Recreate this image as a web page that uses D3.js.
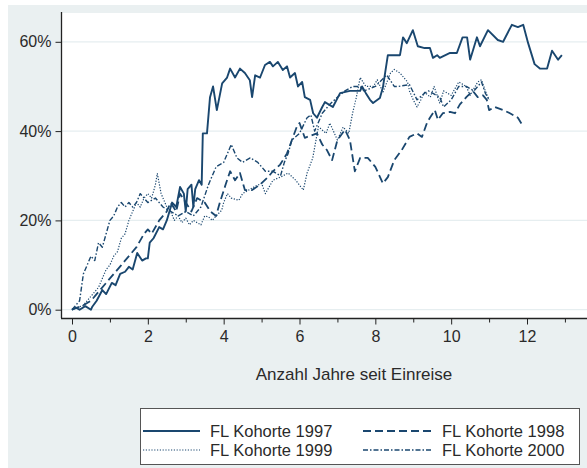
<!DOCTYPE html>
<html><head><meta charset="utf-8">
<script src="https://cdn.jsdelivr.net/npm/d3@7"></script>
<style>
html,body{margin:0;padding:0;background:#fff;}
svg{display:block;font-family:"Liberation Sans",Arial,sans-serif;}
</style></head>
<body>
<svg id="chart" width="587" height="468"></svg>
<script>
// ---- data (years since entry, percent) ----
const xTicks = [0, 2, 4, 6, 8, 10, 12];
const xMinorTicks = [1, 3, 5, 7, 9, 11, 13];
const yTicks = [0, 20, 40, 60];
const seriesNames = ["FL Kohorte 1997", "FL Kohorte 1998", "FL Kohorte 1999", "FL Kohorte 2000"];

const k1997T = [0,0.1,0.2,0.35,0.5,0.53,0.65,0.8,0.9,1.05,1.15,1.27,1.4,1.5,1.6,1.72,1.85,1.95,2.0,2.05,2.15,2.3,2.4,2.5,2.64,2.75,2.85,2.95,3.0,3.05,3.15,3.2,3.25,3.35,3.42,3.45,3.56,3.64,3.72,3.82,3.96,4.09,4.17,4.3,4.43,4.56,4.69,4.75,4.83,4.96,5.09,5.22,5.3,5.43,5.56,5.67,5.75,5.88,5.96,6.07,6.14,6.28,6.36,6.46,6.6,6.67,6.88,7.07,7.33,7.6,7.65,7.75,7.86,7.94,8.12,8.2,8.33,8.65,8.73,8.83,8.99,9.12,9.3,9.44,9.52,9.63,9.7,9.97,10.15,10.3,10.42,10.5,10.68,10.76,10.97,11.23,11.37,11.6,11.76,11.9,12.03,12.2,12.34,12.53,12.66,12.82,12.92];
const k1997V = [0,0.5,0,0.8,0,0.6,2,4.4,3.5,6,5.5,8,8.5,9.6,9,12.7,11,11.5,11.5,15,16,18.5,18,20,24,23,27.5,26,22,27,28,23,27,29,28,39.5,39.5,47.6,50,44.7,50.7,52,54,52,54,53,51.4,47.6,52.5,52,54.8,55.5,54.5,55.5,53.7,54.5,52,53,50,51,47.6,47,44,43,45.4,46.5,45.4,48.5,49,49,50,48.5,47,46.3,47.4,49.8,57,57,61,59.7,62.6,59,58.6,58.6,56.4,57,56.4,57.5,57.5,61,61,56,61,59,62.6,60.4,60,63.8,63.3,63.8,59.7,55,54,54,58,56,57];

const k1998T = [0,0.3,0.5,0.7,0.9,1.1,1.3,1.5,1.7,1.9,2.0,2.1,2.3,2.5,2.6,2.75,2.85,3.0,3.15,3.3,3.5,3.65,3.8,3.9,4.05,4.17,4.3,4.43,4.56,4.75,4.96,5.17,5.3,5.49,5.67,5.8,5.93,6.0,6.14,6.3,6.46,6.6,6.72,6.86,7.0,7.2,7.33,7.46,7.6,7.8,8.0,8.2,8.33,8.5,8.7,8.9,9.1,9.23,9.36,9.44,9.57,9.65,9.78,9.97,10.1,10.23,10.4,10.57,10.7,10.84,10.94,11.0,11.15,11.37,11.55,11.76,11.9];
const k1998V = [0,1,2,4,6,8,10,12,14,17,18,17,20,22,24,22,26,24,22,25,24,22,21,24,28,31,29,30.6,26.8,26.8,28,29.7,31,32.5,35,38,41,41.8,38.5,39,39.5,37,35.8,33.5,38,40.3,38,31,34,34,32,28.3,29.7,33.5,35.8,38.7,39.5,38.7,41.8,43,44.7,42.5,44,44.3,44,46,47.6,49,47.6,48,47,44.7,45.4,44.7,44,43,41];

const k1999T = [0,0.3,0.5,0.7,0.9,1.0,1.1,1.2,1.3,1.4,1.5,1.6,1.7,1.8,1.9,2.0,2.1,2.2,2.25,2.35,2.5,2.6,2.7,2.8,2.9,3.0,3.1,3.2,3.4,3.5,3.6,3.7,3.8,3.95,4.0,4.1,4.2,4.4,4.5,4.8,5.0,5.1,5.3,5.5,5.7,5.9,6.1,6.2,6.35,6.45,6.5,6.7,6.8,7.0,7.15,7.3,7.4,7.5,7.6,7.75,7.95,8.05,8.2,8.4,8.5,8.65,8.85,8.9,9.0,9.1,9.2,9.3,9.45,9.55,9.7,9.8,10.0,10.2,10.4,10.5,10.7,10.8,10.9,11.0];
const k1999V = [0,1,3,5,9,10,12,13,16,17,20,22,24,23,25,26,25,28,30.5,26,23,22,20,21,19.5,20.5,19,20,19,21,20.8,20,21,22.3,24,26,25,24.5,26,27.5,28.3,26,29,29.7,30.6,29,26.8,30.6,34,38.7,41,39.5,41.8,38,40.9,39.5,44,47.6,52,50,50,51.5,48.7,53,53.8,53,51,49,47,45.4,47,48.7,47.6,50,46.2,49,48,51,50,48,51,51.5,49,47];

const k2000T = [0,0.2,0.3,0.4,0.5,0.6,0.7,0.8,0.9,1.0,1.1,1.2,1.3,1.4,1.5,1.6,1.7,1.8,1.9,2.0,2.2,2.4,2.6,2.8,3.0,3.2,3.4,3.6,3.8,4.0,4.1,4.2,4.35,4.5,4.7,4.9,5.1,5.3,5.5,5.6,5.7,5.8,6.0,6.2,6.3,6.4,6.5,6.6,6.8,7.0,7.2,7.4,7.6,7.7,8.0,8.3,8.5,8.6,8.9,9.1,9.3,9.4,9.7,9.8,10.0,10.2,10.4,10.6,10.8,10.9,11.0];
const k2000V = [0,2,8,10,12,11,15,14,17,20,21,23,24,23,24,23,24,26,25,24,25,23,22,21,22,21,23,28,32,33,35,37,34,33,34,33,31,31,30,33,35,38,39.5,43,43.6,40,42,44,46,47.6,49,50,50,49,50,52.6,50,50,50.4,47,48.5,49,47.6,45.4,47,50,50,49,51,48.5,47];

const seriesT = [k1997T, k1998T, k1999T, k2000T];
const seriesV = [k1997V, k1998V, k1999V, k2000V];

// ---- styles ----
const lineColor = "#1a476f";
const styles = [
  {dash: null, width: 1.9},
  {dash: "8,4", width: 1.8},
  {dash: "1.2,1.6", width: 1.2},
  {dash: "5,2,1.5,2", width: 1.4}
];
const fontFam = "'Liberation Sans',Arial,sans-serif";

const svg = d3.select("#chart");
const W = 587, H = 468;

// graph region background
svg.append("rect").attr("x", 0).attr("y", 0).attr("width", W).attr("height", H).attr("fill", "#ffffff");
svg.append("rect").attr("x", 8).attr("y", 5).attr("width", W - 8).attr("height", H - 5).attr("fill", "#eaf0f1");

// plot region
const plotLeft = 62, plotTop = 12, plotBottom = 318, plotRight = 587;
svg.append("rect").attr("x", plotLeft).attr("y", plotTop).attr("width", plotRight - plotLeft).attr("height", plotBottom - plotTop).attr("fill", "#ffffff");

const x = d3.scaleLinear().domain([0, 12]).range([72, 527]);
const y = d3.scaleLinear().domain([0, 60]).range([309.7, 41.8]);

// grid lines
svg.append("g").selectAll("line").data(yTicks).join("line")
  .attr("x1", plotLeft).attr("x2", plotRight)
  .attr("y1", d => y(d)).attr("y2", d => y(d))
  .attr("stroke", "#e6eef0").attr("stroke-width", 1.3);
svg.append("line").attr("x1", plotLeft).attr("x2", plotRight).attr("y1", plotTop + 0.5).attr("y2", plotTop + 0.5)
  .attr("stroke", "#eaf0f1").attr("stroke-width", 1);

// series lines
const line = d3.line().x(d => x(d[0])).y(d => y(d[1]));
seriesT.forEach((ts, i) => {
  const pts = ts.map((t, j) => [t, seriesV[i][j]]);
  const p = svg.append("path").datum(pts)
    .attr("d", line).attr("fill", "none")
    .attr("stroke", lineColor).attr("stroke-width", styles[i].width)
    .attr("stroke-linejoin", "round");
  if (styles[i].dash) p.attr("stroke-dasharray", styles[i].dash);
});

// y axis
const yAxis = d3.axisLeft(y).tickValues(yTicks).tickFormat(d => d + "%").tickSize(6).tickPadding(4);
const gy = svg.append("g").attr("transform", `translate(${plotLeft - 0.5},0)`).call(yAxis);
gy.select(".domain").attr("d", `M0,${plotTop}V${plotBottom}`).attr("stroke", "#222").attr("stroke-width", 1.3);
gy.selectAll(".tick line").attr("stroke", "#222");
gy.selectAll("text").attr("font-size", 16).attr("fill", "#2a2a2a").attr("font-family", fontFam);

// x axis
const xAxis = d3.axisBottom(x).tickValues(xTicks).tickFormat(d3.format("d")).tickSize(6).tickPadding(6);
const gx = svg.append("g").attr("transform", `translate(0,${plotBottom + 0.5})`).call(xAxis);
gx.select(".domain").attr("d", `M${plotLeft - 1},0H${plotRight}`).attr("stroke", "#222").attr("stroke-width", 1.3);
gx.selectAll(".tick line").attr("stroke", "#222");
gx.selectAll("text").attr("font-size", 16).attr("fill", "#2a2a2a").attr("font-family", fontFam);
const xMinor = d3.axisBottom(x).tickValues(xMinorTicks).tickFormat("").tickSize(4);
const gxm = svg.append("g").attr("transform", `translate(0,${plotBottom + 0.5})`).call(xMinor);
gxm.select(".domain").remove();
gxm.selectAll(".tick line").attr("stroke", "#222");

// x title
svg.append("text").attr("x", 354).attr("y", 380).attr("text-anchor", "middle")
  .attr("font-size", 17).attr("fill", "#2a2a2a").attr("font-family", fontFam).text("Anzahl Jahre seit Einreise");

// legend
const lg = svg.append("g");
lg.append("rect").attr("x", 140.5).attr("y", 408.5).attr("width", 439).attr("height", 56)
  .attr("fill", "#ffffff").attr("stroke", "#555").attr("stroke-width", 1);
const legendPos = [
  {sx: 143, ex: 200, tx: 210, y: 431},
  {sx: 363, ex: 433, tx: 442, y: 431},
  {sx: 143, ex: 200, tx: 210, y: 450},
  {sx: 363, ex: 433, tx: 442, y: 450}
];
seriesNames.forEach((name, i) => {
  const pos = legendPos[i];
  const l = lg.append("line").attr("x1", pos.sx).attr("x2", pos.ex).attr("y1", pos.y).attr("y2", pos.y)
    .attr("stroke", lineColor).attr("stroke-width", styles[i].width);
  if (styles[i].dash) l.attr("stroke-dasharray", styles[i].dash);
  lg.append("text").attr("x", pos.tx).attr("y", pos.y + 5.8).attr("font-size", 16.5)
    .attr("fill", "#2a2a2a").attr("font-family", fontFam).text(name);
});
</script>
</body></html>
